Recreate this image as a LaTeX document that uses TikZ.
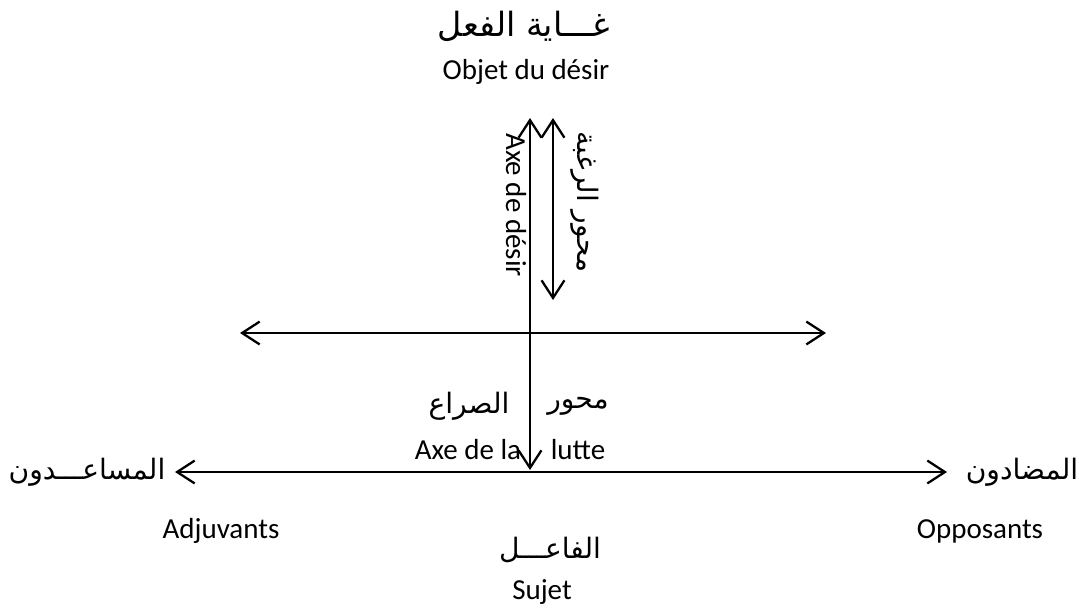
\documentclass[tikz,border=0pt]{standalone}
\usepackage{fontspec}
\setmainfont{Carlito}
\newfontfamily\arabicfont[Script=Arabic]{DejaVu Sans}
\TeXXeTstate=1
\usetikzlibrary{arrows.meta}

\tikzset{
  axisarrow/.style={line width=1.3pt,
    {Straight Barb[length=10pt,width=13pt]}-{Straight Barb[length=10pt,width=13pt]}},
  latin/.style={font=\fontsize{16.5}{20}\selectfont,inner sep=0pt},
  arab/.style={font=\fontsize{16}{20}\selectfont\arabicfont,inner sep=0pt}
}

\begin{document}
\begin{tikzpicture}[x=0.02cm,y=-0.02cm]
  \useasboundingbox (0,0) rectangle (1079,610);
  % Axes (end points)
  \coordinate (desirtop) at (530,118);
  \coordinate (desirbot) at (530,470);
  \coordinate (ragtop) at (553,118);
  \coordinate (ragbot) at (553,300);
  \coordinate (midleft) at (240,333);
  \coordinate (midright) at (826,333);
  \coordinate (adjleft) at (175,472);
  \coordinate (oppright) at (947,472);
  % Objet du desir
  \node[arab,font=\fontsize{19}{24}\selectfont\arabicfont] (ghaya) at (524,26) {\beginR غـــاية الفعل\endR};
  \node[latin] (objet) at (526,72) {Objet du désir};
  % Axe de desir
  \node[latin,rotate=-90] (axedesir) at (516,205) {Axe de désir};
  \node[arab,rotate=-90] (mihwarrag) at (585,202) {\beginR محور الرغبة\endR};
  % Axe de la lutte
  \node[arab] (sira) at (469,406) {\beginR الصراع\endR};
  \node[arab] (mihwar) at (578,406) {\beginR محور\endR};
  \node[latin] (axela) at (468,450) {Axe de la};
  \node[latin] (lutte) at (578,450) {lutte};
  % Adjuvants / Opposants
  \node[arab] (musaid) at (87,472) {\beginR المساعـــدون\endR};
  \node[latin] (adjuvants) at (221,531) {Adjuvants};
  \node[arab] (mudad) at (1022,472) {\beginR المضادون\endR};
  \node[latin] (opposants) at (980,531) {Opposants};
  % Sujet
  \node[arab] (fail) at (550,550) {\beginR الفاعـــل\endR};
  \node[latin] (sujet) at (542,592) {Sujet};
  % Arrows
  \draw[axisarrow] (desirtop) -- (desirbot);
  \draw[axisarrow] (ragtop) -- (ragbot);
  \draw[axisarrow] (midleft) -- (midright);
  \draw[axisarrow] (adjleft) -- (oppright);
\end{tikzpicture}
\end{document}
